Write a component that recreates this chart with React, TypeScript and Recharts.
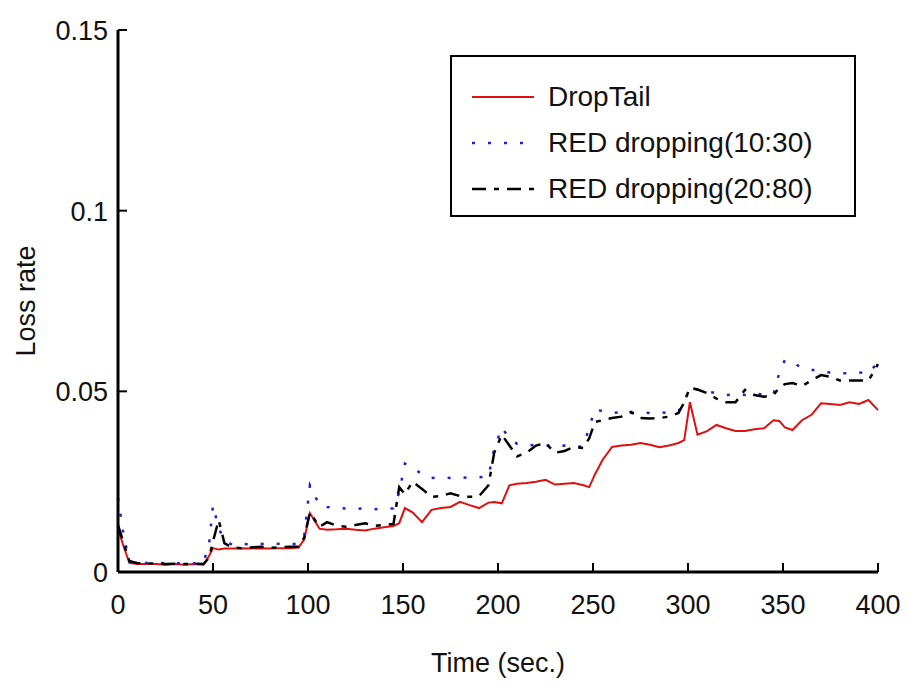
import { LineChart, Line, XAxis, YAxis, Legend } from 'recharts';

const times = [
  0, 3, 6, 10, 15, 20, 25, 30, 35, 40, 45,
  48, 50, 53, 56, 60, 65, 70, 75, 80, 85, 90, 95,
  98, 101, 106, 110, 115, 120, 125, 130, 135, 140, 145,
  148, 151, 155, 160, 165, 170, 175, 180, 185, 190, 195,
  198, 202, 206, 210, 215, 220, 225, 230, 235, 240, 245,
  248, 251, 255, 260, 265, 270, 275, 280, 285, 290, 295,
  298, 301, 305, 310, 315, 320, 325, 330, 335, 340, 345,
  348, 351, 355, 360, 365, 370, 375, 380, 385, 390, 395, 400,
];

const dropTail = [
  0.012, 0.007, 0.0025, 0.0022, 0.0022, 0.0022, 0.002, 0.0022, 0.002, 0.0022, 0.002,
  0.0045, 0.0066, 0.0062, 0.0065, 0.0065, 0.0066, 0.0065, 0.0066, 0.0065, 0.0066, 0.0066, 0.0068,
  0.009, 0.0163, 0.012, 0.0117, 0.0118, 0.012, 0.0117, 0.0115, 0.012, 0.0124, 0.0127,
  0.0135, 0.0177, 0.0165, 0.0138, 0.0172, 0.0177, 0.018, 0.0194, 0.0185, 0.0177, 0.0192,
  0.0194, 0.019, 0.024, 0.0244, 0.0246, 0.025, 0.0255, 0.0242, 0.0244, 0.0246, 0.024,
  0.0235, 0.027, 0.031, 0.0346, 0.035, 0.0352, 0.0357, 0.0352, 0.0345, 0.035, 0.0357,
  0.0365, 0.047, 0.038, 0.039, 0.0407, 0.0398, 0.039, 0.039, 0.0395, 0.0398, 0.042,
  0.0418, 0.04, 0.0393, 0.042, 0.0435, 0.0467, 0.0465, 0.0462, 0.047, 0.0465, 0.0476, 0.0448,
];

const red1030 = [
  0.0205, 0.01, 0.003, 0.0025, 0.0025, 0.0024, 0.0025, 0.0024, 0.0025, 0.0024, 0.0025,
  0.008, 0.0185, 0.012, 0.009, 0.0075, 0.0078, 0.0076, 0.0078, 0.0077, 0.0078, 0.0077, 0.0078,
  0.01, 0.024, 0.0185, 0.018, 0.0177, 0.0176, 0.0175, 0.0176, 0.0174, 0.0175, 0.0176,
  0.022, 0.03, 0.029, 0.027, 0.026, 0.0262, 0.026, 0.0262, 0.026, 0.0262, 0.0265,
  0.034, 0.04, 0.037, 0.0355, 0.035, 0.0352, 0.035, 0.0348, 0.035, 0.0346, 0.0348,
  0.04, 0.045, 0.0445, 0.044, 0.0442, 0.044, 0.0442, 0.044, 0.0442, 0.044, 0.0445,
  0.047, 0.051, 0.0505, 0.05, 0.0495, 0.049, 0.0492, 0.049, 0.0495, 0.049, 0.0492,
  0.055, 0.0587, 0.058, 0.0565, 0.056, 0.0555, 0.0552, 0.055, 0.055, 0.0552, 0.055, 0.058,
];

const red2080 = [
  0.013, 0.008, 0.003, 0.0025, 0.0023, 0.0024, 0.0022, 0.0023, 0.0022, 0.0023, 0.0022,
  0.004, 0.0085, 0.0144, 0.008, 0.0068, 0.0066, 0.0068, 0.007, 0.0067, 0.0068, 0.007, 0.007,
  0.0095, 0.0165, 0.0125, 0.0138, 0.0128, 0.0125, 0.013, 0.0135, 0.0128, 0.013, 0.0133,
  0.0235, 0.0215, 0.025, 0.023, 0.0208, 0.021, 0.0218, 0.021, 0.0208, 0.021, 0.024,
  0.033, 0.038, 0.035, 0.032, 0.033, 0.035, 0.0357, 0.033, 0.0335, 0.0346, 0.0343,
  0.037, 0.0415, 0.042, 0.0426, 0.043, 0.0443, 0.0426, 0.0425, 0.0426, 0.043, 0.044,
  0.047, 0.051, 0.0505, 0.0495, 0.048, 0.047, 0.047, 0.0504, 0.049, 0.0485, 0.049,
  0.051, 0.052, 0.0523, 0.0515, 0.053, 0.0545, 0.054, 0.053, 0.053, 0.053, 0.053, 0.0575,
];

const xTicks = [0, 50, 100, 150, 200, 250, 300, 350, 400];
const yTicks = [0, 0.05, 0.1, 0.15];

const data = times.map((t, i) => ({
  t,
  dropTail: dropTail[i],
  red1030: red1030[i],
  red2080: red2080[i],
}));

const FONT = '"Liberation Sans", Arial, sans-serif';

function XTick(props: any) {
  const { x, y, payload } = props;
  return (
    <g>
      <line x1={x} y1={y} x2={x} y2={y - 9} stroke="#000" strokeWidth={2} />
      <text x={x} y={y + 42} textAnchor="middle" fontSize={27} fontFamily={FONT} fill="#111">
        {payload.value}
      </text>
    </g>
  );
}

function YTick(props: any) {
  const { x, y, payload } = props;
  return (
    <g>
      <line x1={x} y1={y} x2={x + 9} y2={y} stroke="#000" strokeWidth={2} />
      <text x={x - 10} y={y + 10} textAnchor="end" fontSize={27} fontFamily={FONT} fill="#111">
        {String(payload.value)}
      </text>
    </g>
  );
}

function LegendBox(props: any) {
  const { payload } = props;
  return (
    <div
      style={{
        width: 406,
        height: 162,
        border: '2.5px solid #000',
        background: '#fff',
        boxSizing: 'border-box',
        paddingTop: 17,
      }}
    >
      {payload.map((p: any) => (
        <div key={p.value} style={{ display: 'flex', alignItems: 'center', height: 46 }}>
          <svg width={96} height={20}>
            <line
              x1={20}
              y1={10}
              x2={82}
              y2={10}
              stroke={p.color}
              strokeWidth={p.payload.strokeWidth}
              strokeDasharray={p.payload.strokeDasharray}
            />
          </svg>
          <span style={{ fontFamily: FONT, fontSize: 28, color: '#111' }}>{p.value}</span>
        </div>
      ))}
    </div>
  );
}

export default function App() {
  return (
    <div style={{ position: 'absolute', left: 0, top: 0, background: '#fff' }}>
      <LineChart width={907} height={684} data={data} margin={{ top: 30, right: 29, left: 0, bottom: 0 }}>
        <XAxis
          dataKey="t"
          type="number"
          domain={[0, 400]}
          ticks={xTicks}
          tick={<XTick />}
          tickLine={false}
          tickSize={0}
          tickMargin={0}
          height={112}
          axisLine={{ stroke: '#000', strokeWidth: 3 }}
          label={{
            value: 'Time (sec.)',
            position: 'insideBottom',
            offset: 12,
            style: { fontFamily: FONT, fontSize: 27, fill: '#111' },
          }}
        />
        <YAxis
          type="number"
          domain={[0, 0.15]}
          ticks={yTicks}
          tick={<YTick />}
          tickLine={false}
          tickSize={0}
          tickMargin={0}
          width={118}
          axisLine={{ stroke: '#000', strokeWidth: 3 }}
          label={{
            value: 'Loss rate',
            angle: -90,
            position: 'insideLeft',
            offset: 25,
            style: { fontFamily: FONT, fontSize: 27, fill: '#111', textAnchor: 'middle' },
          }}
        />
        <Legend
          layout="vertical"
          align="center"
          verticalAlign="middle"
          content={<LegendBox />}
          wrapperStyle={{ position: 'absolute', left: 450, top: 55, width: 406 }}
        />
        <Line
          dataKey="dropTail"
          name="DropTail"
          stroke="#e01010"
          strokeWidth={2}
          dot={false}
          isAnimationActive={false}
          type="linear"
        />
        <Line
          dataKey="red1030"
          name="RED dropping(10:30)"
          stroke="#2020d0"
          strokeWidth={2.5}
          strokeDasharray="3 13"
          dot={false}
          isAnimationActive={false}
          type="linear"
        />
        <Line
          dataKey="red2080"
          name="RED dropping(20:80)"
          stroke="#000"
          strokeWidth={2.5}
          strokeDasharray="14 8 5 8"
          dot={false}
          isAnimationActive={false}
          type="linear"
        />
      </LineChart>
    </div>
  );
}
